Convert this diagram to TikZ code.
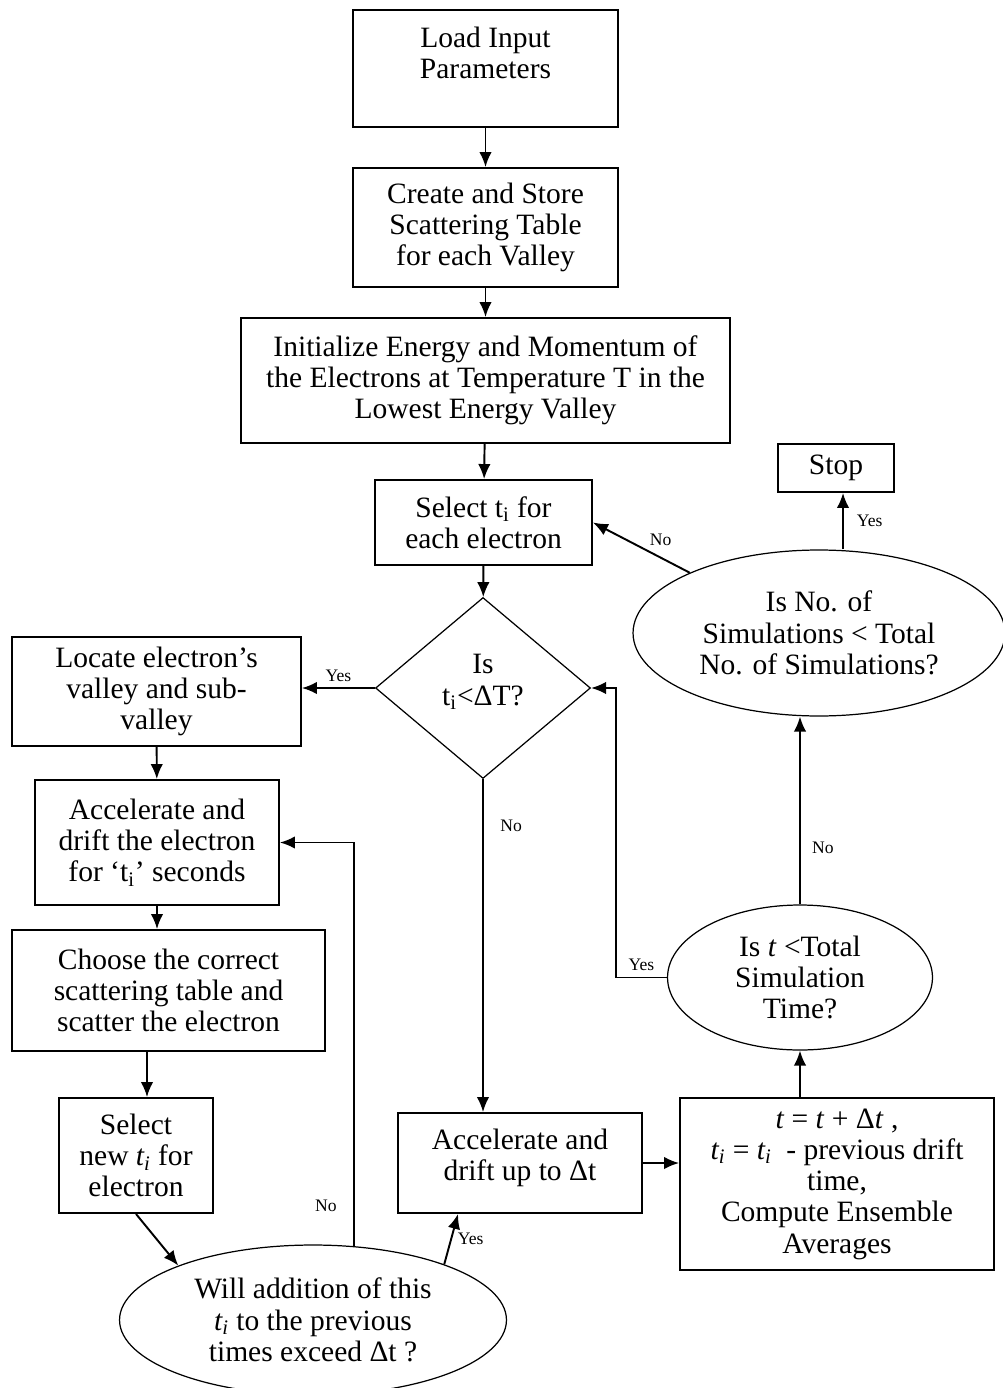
\documentclass[tikz,border=0pt]{standalone}
\usepackage{fontspec}
\setmainfont{Liberation Serif}
\usetikzlibrary{arrows.meta,positioning,shapes.geometric}
\tikzset{
    %Define standard arrow tip
    >={Latex[length=0.3cm,width=0.25cm]},
    %Define style for boxes
    proc/.style={
           rectangle,
           draw=black, line width=1.1pt,
           inner sep=2pt,
           align=center,
           font=\fontsize{16.8}{17.8}\selectfont},
    % Define style for the tests
    test/.style={
           ellipse,
           draw=black, line width=0.7pt,
           inner sep=0pt,
           align=center,
           font=\fontsize{16.8}{17.8}\selectfont},
    choice/.style={
           diamond,
           draw=black, line width=0.7pt,
           inner sep=0pt,
           align=center,
           font=\fontsize{16.8}{17.8}\selectfont},
    annote/.style={
          font=\fontsize{10}{12}\selectfont
    },
    % Define arrow style
    arrow/.style={
           ->,
           line width=1.1pt},
}

\begin{document}
\begin{tikzpicture}[x=0.02cm, y=-0.02cm]
\useasboundingbox (0,0) rectangle (1003,1388);
% main column
\node[proc, minimum width=5.3cm, minimum height=2.34cm] (load) at (485.5,68.5) {Load Input\\Parameters\\\mbox{}};
\node[proc, minimum width=5.3cm, minimum height=2.38cm] (table) at (485.5,227.5) {Create and Store\\Scattering Table\\for each Valley};
\node[proc, minimum width=9.78cm, minimum height=2.5cm] (init) at (485.5,380.5) {Initialize Energy and Momentum of\\the Electrons at Temperature T in the\\Lowest Energy Valley};
\node[proc, minimum width=4.34cm, minimum height=1.7cm] (selti) at (483.5,522.5) {Select t\textsubscript{i} for\\each electron};
\node[choice, minimum width=4.3cm, minimum height=3.62cm] (isti) at (483,688) {Is\\t\textsubscript{i}<ΔT?\\[-0.5em]};
% left column
\node[proc, minimum width=5.78cm, minimum height=2.18cm] (locate) at (156.5,691.5) {Locate electron’s\\valley and sub-\\valley};
\node[proc, minimum width=4.88cm, minimum height=2.5cm] (drift) at (157,842.5) {Accelerate and\\drift the electron\\for ‘t\textsubscript{i}’ seconds};
\node[proc, minimum width=6.26cm, minimum height=2.42cm] (scatter) at (168.5,990.5) {Choose the correct\\scattering table and\\scatter the electron};
\node[proc, minimum width=3.08cm, minimum height=2.3cm] (newti) at (136,1155.5) {Select\\new \textit{t\textsubscript{i}} for\\electron};
\node[test, minimum width=7.74cm, minimum height=3.0cm] (exceed) at (313,1320) {Will addition of this\\\textit{t\textsubscript{i}} to the previous\\times exceed Δt ?};
% right column
\node[proc, minimum width=4.88cm, minimum height=2.0cm] (driftdt) at (520,1163) {Accelerate and\\drift up to Δt\\[-0.5em]};
\node[proc, minimum width=6.28cm, minimum height=3.44cm] (average) at (837,1184) {\textit{t} = \textit{t} + Δ\textit{t} ,\\\textit{t\textsubscript{i}} = \textit{t\textsubscript{i}}~~- previous drift\\time,\\Compute Ensemble\\Averages};
\node[test, minimum width=5.3cm, minimum height=2.9cm] (istime) at (800,977.5) {Is \textit{t} <Total\\Simulation\\Time?};
\node[test, minimum width=7.44cm, minimum height=3.32cm] (issims) at (819,633) {Is No. of\\Simulations < Total\\No. of Simulations?};
\node[proc, minimum width=2.32cm, minimum height=0.96cm] (stop) at (836,468) {Stop};

\coordinate (newtop) at ([xshift=0.22cm]newti.north);
\coordinate (stopin) at ([xshift=0.14cm]stop.south);

\draw[arrow] (load) -- (table);
\draw[arrow] (table) -- (init);
\draw[arrow] (init) -- (selti);
\draw[arrow] (selti) -- (isti);
\draw[arrow] (isti.west) -- node[above,annote] {Yes} (isti.west -| locate.east);
\draw[arrow] (isti.south) -- node[pos=0.14,right=6pt,annote] {No} (isti.south |- driftdt.north);
\draw[arrow] (locate) -- (drift);
\draw[arrow] (drift.south) -- (drift.south |- scatter.north);
\draw[arrow] (newtop |- scatter.south) -- (newtop);
\draw[arrow] (newti.south) -- (exceed.158);
\draw[arrow] (exceed.61) |- node[pos=0.05,left=6pt,annote] {No} (drift.east);
\draw[arrow] (exceed.23) -- node[right,annote] {Yes} ([xshift=-1.24cm]driftdt.south);
\draw[arrow] (driftdt.east) -- (driftdt.east -| average.west);
\draw[arrow] (average.north -| istime.south) -- (istime.south);
\draw[arrow] (istime.west) -- node[above,annote] {Yes} ++(-51,0) |- (isti.east);
\draw[arrow] (istime.north) -- node[pos=0.3,right=3pt,annote] {No} (istime.north |- issims.south);
\draw[arrow] (stopin |- issims.north) -- node[right=4pt,annote] {Yes} (stopin);
\draw[arrow] (issims.155) -- node[pos=0.3,above=3pt,annote] {No} (selti.east);
\end{tikzpicture}
\end{document}
